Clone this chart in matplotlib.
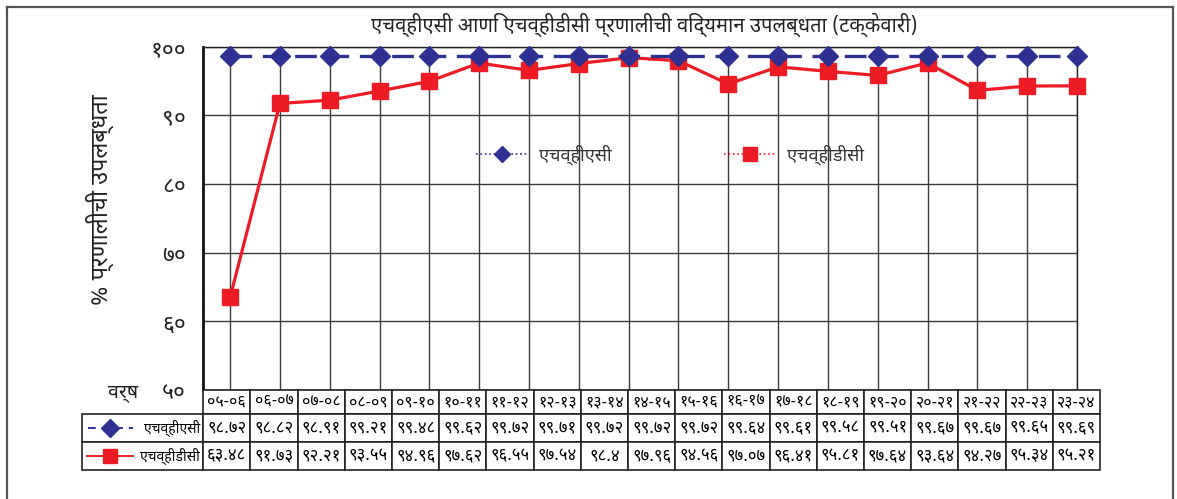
import matplotlib
matplotlib.use("Agg")
import matplotlib.pyplot as plt
from matplotlib import font_manager as fm
from matplotlib.lines import Line2D
from matplotlib.table import Table

# ---------------- data ----------------
title = "एचव्हीएसी आणि एचव्हीडीसी प्रणालीची विद्यमान उपलब्धता (टक्केवारी)"
ylabel = "% प्रणालीची उपलब्धता"
year_label = "वर्ष"
series_names = ["एचव्हीएसी", "एचव्हीडीसी"]

years = ["०५-०६", "०६-०७", "०७-०८", "०८-०९", "०९-१०", "१०-११", "११-१२", "१२-१३",
         "१३-१४", "१४-१५", "१५-१६", "१६-१७", "१७-१८", "१८-१९", "१९-२०", "२०-२१",
         "२१-२२", "२२-२३", "२३-२४"]
hvac_table = [98.72, 98.82, 98.91, 99.21, 99.48, 99.62, 99.72, 99.71, 99.72, 99.72,
              99.72, 99.64, 99.61, 99.58, 99.51, 99.67, 99.67, 99.65, 99.69]
hvdc_table = [63.48, 91.73, 92.21, 93.55, 94.96, 97.62, 96.55, 97.54, 98.4, 97.96,
              94.56, 97.07, 96.41, 95.81, 97.64, 93.64, 94.27, 95.34, 95.21]

# plotted points as drawn in the chart (18 points)
hvac_plot = [98.6, 98.6, 98.6, 98.6, 98.6, 98.6, 98.6, 98.6, 98.6,
             98.6, 98.6, 98.6, 98.6, 98.6, 98.6, 98.6, 98.6, 98.6]
hvdc_plot = [63.48, 91.73, 92.21, 93.55, 94.96, 97.62, 96.55, 97.54, 98.4,
             97.96, 94.56, 97.07, 96.41, 95.81, 97.64, 93.64, 94.27, 94.3]

yticks = [50, 60, 70, 80, 90, 100]
ytick_labels = ["५०", "६०", "७०", "८०", "९०", "१००"]

BLUE = "#2E3192"
RED = "#ED1C24"
GRID = "#3a3a3a"

# ---------------- fonts ----------------
names = {f.name for f in fm.fontManager.ttflist}
deva = None
for cand in ["Noto Sans Devanagari", "Hind", "Mukta", "Anek Devanagari", "Amiko",
             "FreeSans"]:
    if cand in names:
        deva = cand
        break
fams = ([deva] if deva else []) + ["DejaVu Sans"]
plt.rcParams["font.family"] = fams

DIG = str.maketrans("0123456789", "०१२३४५६७८९")
def deva_num(v):
    return repr(v).translate(DIG)

W, H = 1177, 499
fig = plt.figure(figsize=(W / 100, H / 100), dpi=100)

def fx(px):
    return px / W

def fy(py):
    return 1 - py / H

# main axes
ax = fig.add_axes([fx(202.7), fy(390), fx(1077) - fx(202.7), fy(46.7) - fy(390)])
x = list(range(len(hvac_plot)))
ax.plot(x, hvac_plot, color=BLUE, lw=2.4, dashes=(6.5, 3.2), marker="D", ms=10.5,
        mfc=BLUE, mec=BLUE, clip_on=False, zorder=4)
ax.plot(x, hvdc_plot, color=RED, lw=2.3, marker="s", ms=11, mfc=RED, mec=RED,
        clip_on=False, zorder=3)
ax.set_xlim(-0.55, len(hvac_plot) - 1)
ax.set_ylim(50, 100)
ax.set_xticks(x)
ax.set_xticklabels([])
ax.set_yticks(yticks)
ax.set_yticklabels(ytick_labels, fontsize=16.5, fontweight="bold", color="#222222")
ax.tick_params(axis="both", length=0, pad=12)
ax.grid(True, color=GRID, lw=1.0)
for s in ["top", "right", "bottom"]:
    ax.spines[s].set_linewidth(1.0)
    ax.spines[s].set_color("#222222")
ax.spines["left"].set_linewidth(2.0)
ax.spines["left"].set_color("#111111")

# in-plot legend
h1 = Line2D([], [], color=BLUE, ls=":", lw=1.2, marker="D", ms=8, mfc=BLUE, mec=BLUE)
h2 = Line2D([], [], color=RED, ls=":", lw=1.2, marker="s", ms=10, mfc=RED, mec=RED)
leg = fig.legend([h1, h2], series_names, loc="center",
                 bbox_to_anchor=(fx(670), fy(155)), ncol=2, frameon=False,
                 fontsize=13, handlelength=2.9, handletextpad=0.6, columnspacing=6.2)
for t in leg.get_texts():
    t.set_color("#333333")

# title and labels
fig.text(fx(644), fy(25), title, ha="center", va="center", fontsize=14.5, color="#222222")
fig.text(fx(100), fy(200), ylabel, ha="center", va="center", rotation=90,
         fontsize=17, color="#222222")
fig.text(fx(123), fy(392), year_label, ha="center", va="center", fontsize=14,
         color="#222222")

# data table
tax = fig.add_axes([fx(82), fy(470), fx(1100) - fx(82), fy(390) - fy(470)])
tax.set_axis_off()
tab = Table(tax, bbox=[0, 0, 1, 1])
lab_w = 121.0
col_w = 47.1
row_h = [24.0, 28.0, 28.0]
rows = [years, [deva_num(v) for v in hvac_table], [deva_num(v) for v in hvdc_table]]
for r in range(3):
    c0 = tab.add_cell(r, 0, width=lab_w, height=row_h[r],
                      text="" if r == 0 else series_names[r - 1], loc="right",
                      edgecolor="#222222")
    if r == 0:
        c0.visible_edges = ""
    c0.get_text().set_fontsize(10)
    c0.PAD = 0.025
    for c, txt in enumerate(rows[r]):
        cell = tab.add_cell(r, c + 1, width=col_w, height=row_h[r], text=txt,
                            loc="center", edgecolor="#222222")
        cell.get_text().set_fontsize(12 if r else 11.5)
        cell.set_linewidth(1.2)
    c0.set_linewidth(1.2)
tab.auto_set_font_size(False)
tax.add_table(tab)

# legend keys inside the table
tot_w = 1100 - 82
def tx(px):
    return (px - 82) / tot_w
def ty(py):
    return (470 - py) / 80
tax.add_line(Line2D([tx(88), tx(133)], [ty(428), ty(428)], color=BLUE, lw=1.4,
                    dashes=(4, 3)))
tax.add_line(Line2D([tx(110)], [ty(428)], color=BLUE, marker="D", ms=9, ls="none"))
tax.add_line(Line2D([tx(87), tx(133)], [ty(456), ty(456)], color=RED, lw=1.4))
tax.add_line(Line2D([tx(110)], [ty(456)], color=RED, marker="s", ms=10, ls="none"))

# outer frame
for (xa, ya) in [([7, 7], [499, 7]), ([7, 1173], [7, 7]), ([1173, 1173], [7, 499])]:
    fig.add_artist(Line2D([fx(v) for v in xa], [fy(v) for v in ya], color="#555555",
                          lw=1.6, transform=fig.transFigure))

fig.savefig("out.png", dpi=100)
